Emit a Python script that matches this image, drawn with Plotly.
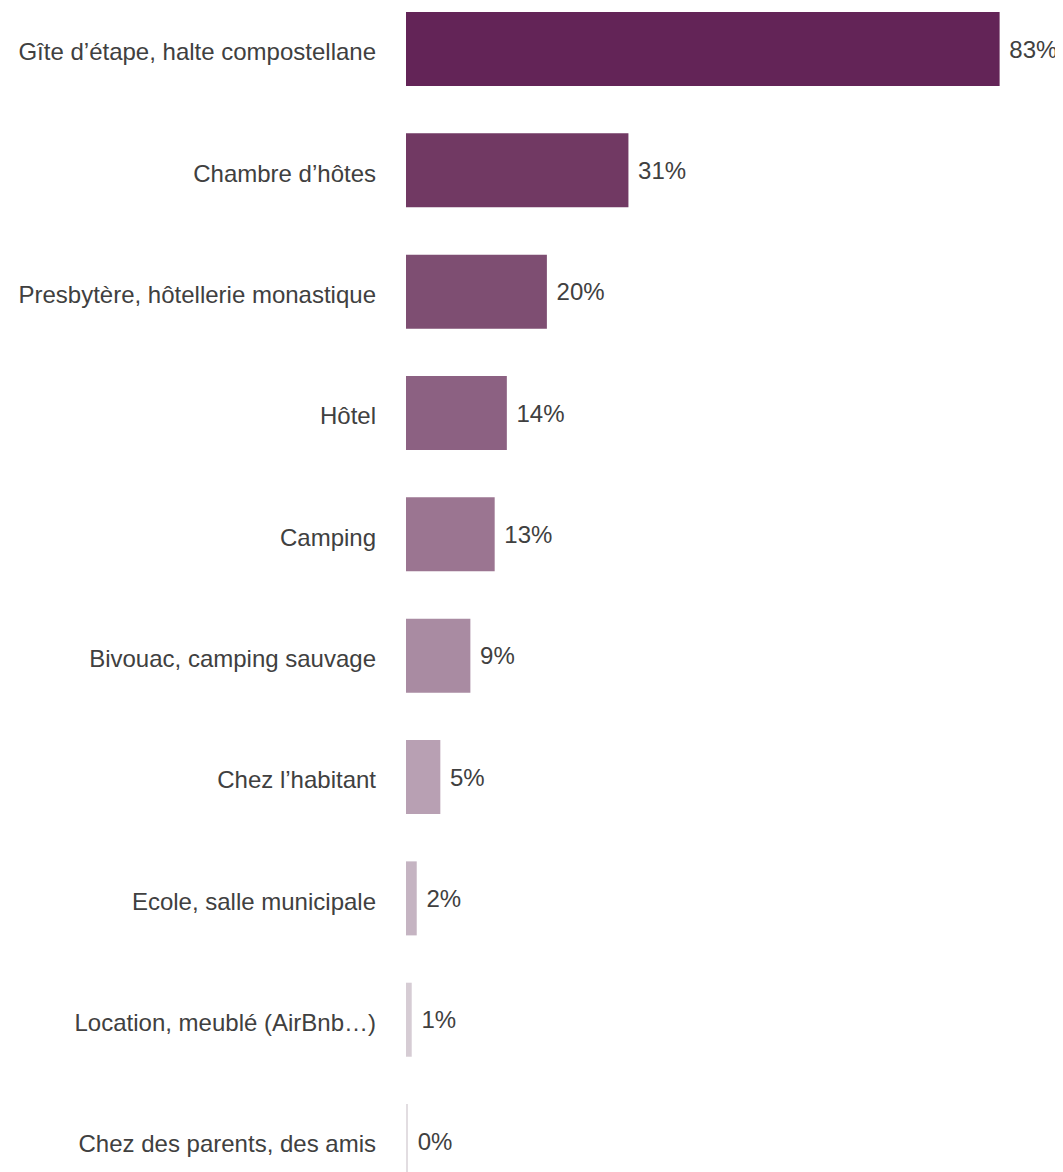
import plotly.graph_objects as go

categories = [
    "Gîte d’étape, halte compostellane",
    "Chambre d’hôtes",
    "Presbytère, hôtellerie monastique",
    "Hôtel",
    "Camping",
    "Bivouac, camping sauvage",
    "Chez l’habitant",
    "Ecole, salle municipale",
    "Location, meublé (AirBnb…)",
    "Chez des parents, des amis",
]
values = [83, 31.1, 19.7, 14.1, 12.4, 9.0, 4.8, 1.5, 0.8, 0.15]
value_labels = ["83%", "31%", "20%", "14%", "13%", "9%", "5%", "2%", "1%", "0%"]
colors = ["#632457", "#713963", "#7e4e72", "#8c6182", "#9b7591",
          "#a98ba2", "#b8a0b3", "#c5b4c2", "#d6ccd4", "#e2dde1"]

FONT = "Liberation Sans, Arial, sans-serif"

fig = go.Figure(go.Bar(
    x=values, y=categories, orientation="h",
    marker=dict(color=colors, line=dict(width=0)),
    width=0.61,
    text=["\u00a0" + t for t in value_labels], textposition="outside", cliponaxis=False,
    textfont=dict(family=FONT, size=24, color="#404040"),
))

fig.update_layout(
    width=1055, height=1164,
    margin=dict(l=398, r=0, t=0, b=0, pad=0),
    plot_bgcolor="white", paper_bgcolor="white",
    showlegend=False,
    font=dict(family=FONT, size=24, color="#404040"),
)
fig.update_xaxes(range=[0, 657 / 7.152], visible=False, fixedrange=True)
fig.update_yaxes(
    categoryorder="array", categoryarray=categories,
    range=[9.255, -0.338], autorange=False,
    showgrid=False, zeroline=False, showline=False,
    ticks="", ticklabelstandoff=29, ticklabelshift=-3,
    tickfont=dict(family=FONT, size=24, color="#404040"),
)

fig.write_html("out.html")
